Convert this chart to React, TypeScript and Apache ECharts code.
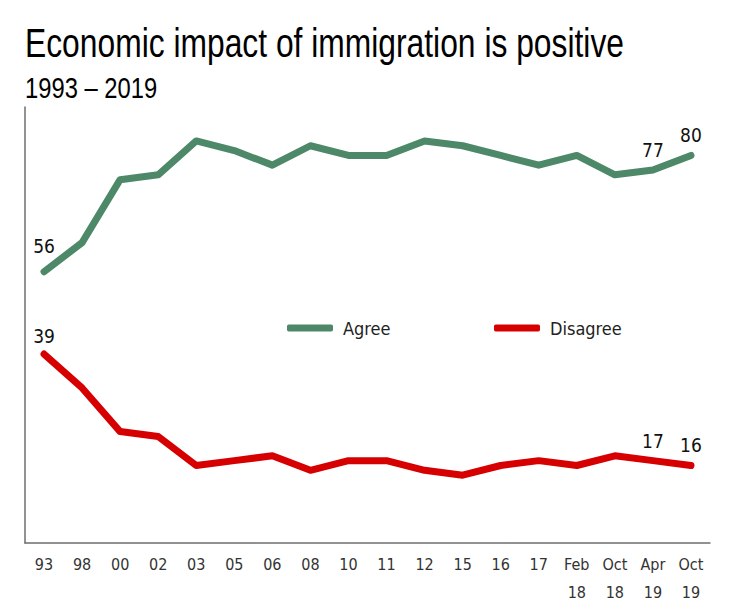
import React, { useEffect, useRef } from "react";
import * as echarts from "echarts";

const categories = ["93", "98", "00", "02", "03", "05", "06", "08", "10", "11", "12", "15", "16", "17", "Feb\n18", "Oct\n18", "Apr\n19", "Oct\n19"];
const agree = [56, 62, 75, 76, 83, 81, 78, 82, 80, 80, 83, 82, 80, 78, 80, 76, 77, 80];
const disagree = [39, 32, 23, 22, 16, 17, 18, 15, 17, 17, 15, 14, 16, 17, 16, 18, 17, 16];
const agreeLabelled = [0, 16, 17];
const disagreeLabelled = [0, 16, 17];
const titleText = "Economic impact of immigration is positive";
const subtitleText = "1993 – 2019";

const FONT = "'Liberation Sans Narrow', 'DejaVu Sans Condensed', 'Liberation Sans', sans-serif";
const TITLE_FONT = "'Liberation Sans', Arial, sans-serif";
const GREEN = "#4d8868";
const RED = "#d60000";

export default function App() {
  const ref = useRef<HTMLDivElement>(null);
  useEffect(() => {
    if (!ref.current) return;
    const chart = echarts.init(ref.current, undefined, { renderer: "svg" });
    const mk = (vals: number[], labelled: number[], firstDist: number) =>
      vals.map((v, i) =>
        labelled.includes(i)
          ? { value: v, label: { show: true, distance: i === 0 ? firstDist : 10 } }
          : { value: v }
      );
    chart.setOption({
      animation: false,
      graphic: [
        {
          type: "text",
          x: 25,
          y: 43,
          scaleX: 0.795,
          style: { text: titleText, font: `normal 40px ${TITLE_FONT}`, fill: "#000", align: "left", verticalAlign: "middle" },
        },
        {
          type: "text",
          x: 25,
          y: 88,
          scaleX: 0.82,
          style: { text: subtitleText, font: `normal 29px ${TITLE_FONT}`, fill: "#000", align: "left", verticalAlign: "middle" },
        },
      ],
      legend: [
        { data: ["Agree"], left: 287, top: 319, padding: 0, icon: "roundRect", itemWidth: 46, itemHeight: 7, itemGap: 10, textStyle: { fontFamily: FONT, fontSize: 18, color: "#222", padding: [0, 0, 0, 5] } },
        { data: ["Disagree"], left: 494, top: 319, padding: 0, icon: "roundRect", itemWidth: 46, itemHeight: 7, itemGap: 10, textStyle: { fontFamily: FONT, fontSize: 18, color: "#222", padding: [0, 0, 0, 5] } },
      ],
      grid: { left: 25, right: 25, top: 107, bottom: 67 },
      xAxis: {
        type: "category",
        data: categories,
        boundaryGap: true,
        axisLine: { lineStyle: { color: "#6e6e6e", width: 1.5 } },
        axisTick: { show: false },
        axisLabel: { fontFamily: FONT, fontSize: 16, color: "#333", lineHeight: 28, margin: 7, interval: 0 },
      },
      yAxis: {
        type: "value",
        min: 0,
        max: 90,
        axisLine: { show: true, lineStyle: { color: "#6e6e6e", width: 1.5 } },
        axisTick: { show: false },
        axisLabel: { show: false },
        splitLine: { show: false },
      },
      series: [
        {
          name: "Agree",
          type: "line",
          data: mk(agree, agreeLabelled, 16),
          color: GREEN,
          lineStyle: { width: 7, color: GREEN, cap: "round", join: "round" },
          showSymbol: true,
          symbol: "circle",
          symbolSize: 1,
          itemStyle: { color: GREEN },
          label: { show: false, position: "top", fontFamily: FONT, fontSize: 19, color: "#111" },
        },
        {
          name: "Disagree",
          type: "line",
          data: mk(disagree, disagreeLabelled, 8),
          color: RED,
          lineStyle: { width: 7, color: RED, cap: "round", join: "round" },
          showSymbol: true,
          symbol: "circle",
          symbolSize: 1,
          itemStyle: { color: RED },
          label: { show: false, position: "top", fontFamily: FONT, fontSize: 19, color: "#111" },
        },
      ],
    });
    return () => chart.dispose();
  }, []);
  return <div ref={ref} style={{ position: "fixed", left: 0, top: 0, width: 735, height: 610, background: "#fff" }} />;
}
